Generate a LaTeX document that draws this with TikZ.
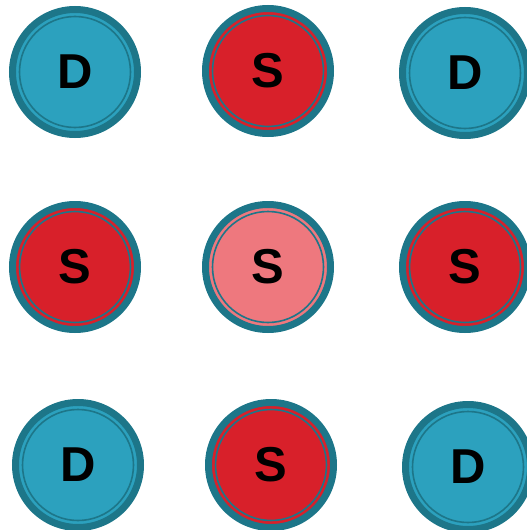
\documentclass[tikz,border=0pt]{standalone}
\usepackage{fontspec}
\setmainfont{Liberation Sans}
\definecolor{ringc}{HTML}{1D7689}
\definecolor{dfill}{HTML}{2CA1BE}
\definecolor{sfill}{HTML}{D8202A}
\definecolor{pfill}{HTML}{EE787E}
\tikzset{
  cell/.style={circle, minimum size=125pt, inner sep=0pt, draw=ringc, line width=7pt, font=\fontsize{49}{49}\selectfont\bfseries, text=black},
  dcell/.style={cell, fill=dfill},
  scell/.style={cell, fill=sfill},
  pcell/.style={cell, fill=pfill},
}
\newcommand{\innerring}[1]{\draw[ringc, line width=1.6pt] (#1.center) circle[radius=55.5pt];}
\begin{document}
\begin{tikzpicture}[x=1pt,y=-1pt]
\useasboundingbox (0,0) rectangle (527,530);
\node[dcell] (a) at (75,72) {D};
\node[scell] (b) at (268,71) {S};
\node[dcell] (c) at (465,73) {D};
\node[scell] (d) at (75,267) {S};
\node[pcell] (e) at (268,267) {S};
\node[scell] (f) at (465,267) {S};
\node[dcell] (g) at (78,465) {D};
\node[scell] (h) at (271,465) {S};
\node[dcell] (i) at (468,467) {D};
\foreach \n in {a,b,c,d,e,f,g,h,i} {\innerring{\n}}
\end{tikzpicture}
\end{document}
